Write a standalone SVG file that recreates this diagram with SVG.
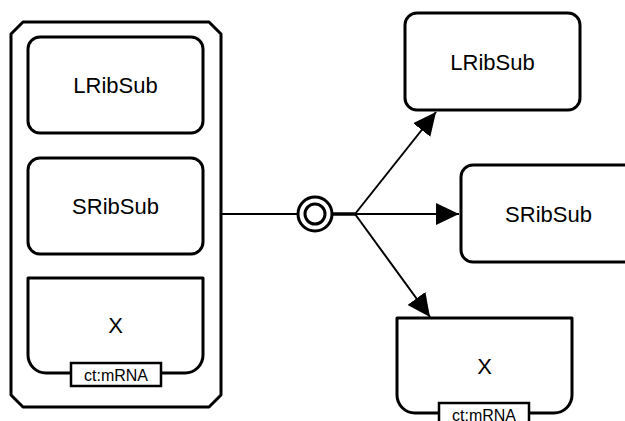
<svg xmlns="http://www.w3.org/2000/svg" width="625" height="421" viewBox="0 0 625 421">
<style>
.shape{fill:#fff;stroke:#000;stroke-width:3;stroke-linejoin:round}
.uoi{fill:#fff;stroke:#000;stroke-width:2.5}
.lbl{font-family:"Liberation Sans",Arial,sans-serif;font-size:22px;text-anchor:middle;fill:#000}
.ulbl{font-family:"Liberation Sans",Arial,sans-serif;font-size:16px;text-anchor:middle;fill:#000}
.edge{fill:none;stroke:#000;stroke-width:2}
</style>
<defs>
<marker id="arrow" markerUnits="userSpaceOnUse" markerWidth="24" markerHeight="24" refX="23" refY="11" orient="auto">
<path d="M0,0 L23,11 L0,22 Z" fill="#000"/>
</marker>
</defs>
<rect width="625" height="421" fill="#fff"/>
<g id="complex">
<path class="shape" d="M23,22 H209 L221,34 V395 L209,407 H23 L11,395 V34 Z"/>
<g id="c_LRibSub">
<rect class="shape" x="28" y="37" width="175" height="96" rx="12"/>
<text class="lbl" x="115.5" y="93">LRibSub</text>
</g>
<g id="c_SRibSub">
<rect class="shape" x="28" y="158" width="175" height="96" rx="12"/>
<text class="lbl" x="115.5" y="214">SRibSub</text>
</g>
<g id="c_X">
<path class="shape" d="M28,278 H203 V355 A18,18 0 0 1 185,373 H46 A18,18 0 0 1 28,355 Z"/>
<text class="lbl" x="115.5" y="333">X</text>
<rect class="uoi" x="71" y="363" width="90" height="23"/>
<text class="ulbl" x="116" y="380.5">ct:mRNA</text>
</g>
</g>
<g id="process">
<circle cx="315" cy="214" r="17" fill="#fff" stroke="#000" stroke-width="3"/>
<circle cx="315" cy="214" r="10" fill="#fff" stroke="#000" stroke-width="3"/>
</g>
<g id="LRibSub">
<rect class="shape" x="405" y="13" width="175" height="97" rx="12"/>
<text class="lbl" x="492.5" y="69.5">LRibSub</text>
</g>
<g id="SRibSub">
<rect class="shape" x="461" y="165" width="175" height="97" rx="12"/>
<text class="lbl" x="548.5" y="222">SRibSub</text>
</g>
<g id="X">
<path class="shape" d="M397,318 H572 V395 A18,18 0 0 1 554,413 H415 A18,18 0 0 1 397,395 Z"/>
<text class="lbl" x="484.5" y="374">X</text>
<rect class="uoi" x="439" y="403" width="90" height="23"/>
<text class="ulbl" x="484" y="420.5">ct:mRNA</text>
</g>
<g id="connectors">
<line class="edge" x1="221" y1="214" x2="298" y2="214"/>
<line x1="332" y1="214" x2="355" y2="214" stroke="#000" stroke-width="3.5"/>
<line class="edge" x1="355" y1="214" x2="436" y2="112" marker-end="url(#arrow)"/>
<line class="edge" x1="355" y1="214" x2="459" y2="214" marker-end="url(#arrow)"/>
<line class="edge" x1="355" y1="214" x2="430" y2="317" marker-end="url(#arrow)"/>
</g>
</svg>
